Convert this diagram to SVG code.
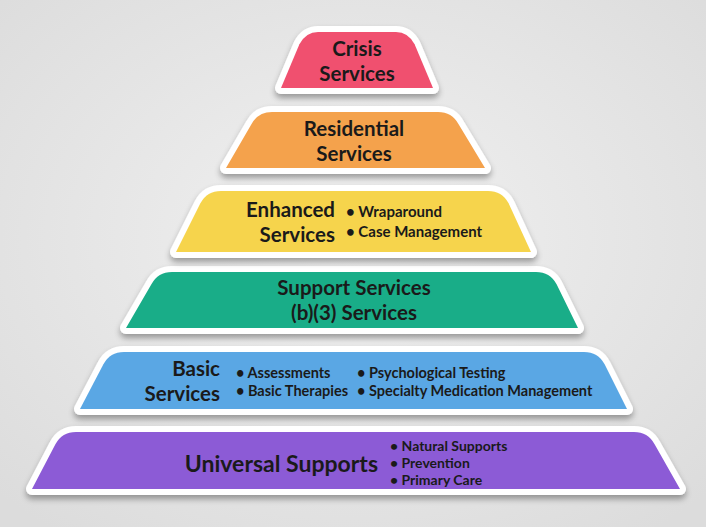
<svg xmlns="http://www.w3.org/2000/svg" width="706" height="527" viewBox="0 0 706 527">
<defs>
<radialGradient id="bg" cx="50%" cy="45%" r="70%">
<stop offset="0" stop-color="#f1f1f1"/>
<stop offset="1" stop-color="#dcdcdc"/>
</radialGradient>
<filter id="sh" x="-10%" y="-30%" width="120%" height="170%">
<feGaussianBlur in="SourceAlpha" stdDeviation="3"/>
<feOffset dx="0" dy="4" result="b"/>
<feComponentTransfer><feFuncA type="linear" slope="0.35"/></feComponentTransfer>
<feMerge><feMergeNode/><feMergeNode in="SourceGraphic"/></feMerge>
</filter>
</defs>
<style>
.rim{fill:#ffffff;stroke:#ffffff;stroke-width:12;stroke-linejoin:round;filter:url(#sh)}
.lbl{font-family:Lato,"Open Sans","Liberation Sans",sans-serif;font-weight:bold;font-size:20.5px;fill:#1a1a1a}
.blt{font-family:Lato,"Open Sans","Liberation Sans",sans-serif;font-weight:bold;font-size:14.5px;fill:#1a1a1a}
.big{font-size:23px}
.b14{font-size:14px}
.b15{font-size:15px}
.c{text-anchor:middle}
.r{text-anchor:end}
</style>
<rect width="706" height="527" fill="url(#bg)"/>

<g id="universal">
<path class="rim" d="M32 489 L55.4 444.3 Q62 432 76 432 L634 432 Q648 432 654.6 444.3 L680 489 Z"/>
<path fill="#8c5bd6" d="M32 489 L55.4 444.3 Q62 432 76 432 L634 432 Q648 432 654.6 444.3 L680 489 Z"/>
<text class="lbl r big" x="378" y="472">Universal Supports</text>
<text class="blt b14" x="390" y="451">• Natural Supports</text>
<text class="blt b14" x="390" y="468">• Prevention</text>
<text class="blt b14" x="390" y="485">• Primary Care</text>
</g>

<g id="basic">
<path class="rim" d="M80 409 L103.4 364.3 Q110 352 124 352 L584 352 Q598 352 604.6 364.3 L627 409 Z"/>
<path fill="#5aa7e4" d="M80 409 L103.4 364.3 Q110 352 124 352 L584 352 Q598 352 604.6 364.3 L627 409 Z"/>
<text class="lbl r" x="220" y="376">Basic</text>
<text class="lbl r" x="220" y="401">Services</text>
<text class="blt" x="236" y="378">• Assessments</text>
<text class="blt" x="236" y="396">• Basic Therapies</text>
<text class="blt" x="357" y="378">• Psychological Testing</text>
<text class="blt" x="357" y="396">• Specialty Medication Management</text>
</g>

<g id="support">
<path class="rim" d="M126 328 L151.4 284.3 Q158 272 172 272 L536 272 Q550 272 556.6 284.3 L578 328 Z"/>
<path fill="#19ad88" d="M126 328 L151.4 284.3 Q158 272 172 272 L536 272 Q550 272 556.6 284.3 L578 328 Z"/>
<text class="lbl c" x="354" y="295">Support Services</text>
<text class="lbl c" x="354" y="320">(b)(3) Services</text>
</g>

<g id="enhanced">
<path class="rim" d="M176 252 L200.4 203.3 Q207 191 221 191 L488 191 Q502 191 508.6 203.3 L531 252 Z"/>
<path fill="#f6d44c" d="M176 252 L200.4 203.3 Q207 191 221 191 L488 191 Q502 191 508.6 203.3 L531 252 Z"/>
<text class="lbl r" x="335" y="217">Enhanced</text>
<text class="lbl r" x="335" y="242">Services</text>
<text class="blt b15" x="346" y="217">• Wraparound</text>
<text class="blt b15" x="346" y="237">• Case Management</text>
</g>

<g id="residential">
<path class="rim" d="M226 168 L251.4 124.3 Q258 112 272 112 L438 112 Q452 112 458.6 124.3 L485 168 Z"/>
<path fill="#f4a24c" d="M226 168 L251.4 124.3 Q258 112 272 112 L438 112 Q452 112 458.6 124.3 L485 168 Z"/>
<text class="lbl c" x="354" y="136">Residential</text>
<text class="lbl c" x="354" y="161">Services</text>
</g>

<g id="crisis">
<path class="rim" d="M281 88 L299.4 44.3 Q306 32 318 32 L396 32 Q408 32 414.6 44.3 L433 88 Z"/>
<path fill="#f0506f" d="M281 88 L299.4 44.3 Q306 32 318 32 L396 32 Q408 32 414.6 44.3 L433 88 Z"/>
<text class="lbl c" x="357" y="56">Crisis</text>
<text class="lbl c" x="357" y="81">Services</text>
</g>

<g id="connectors"></g>
</svg>
